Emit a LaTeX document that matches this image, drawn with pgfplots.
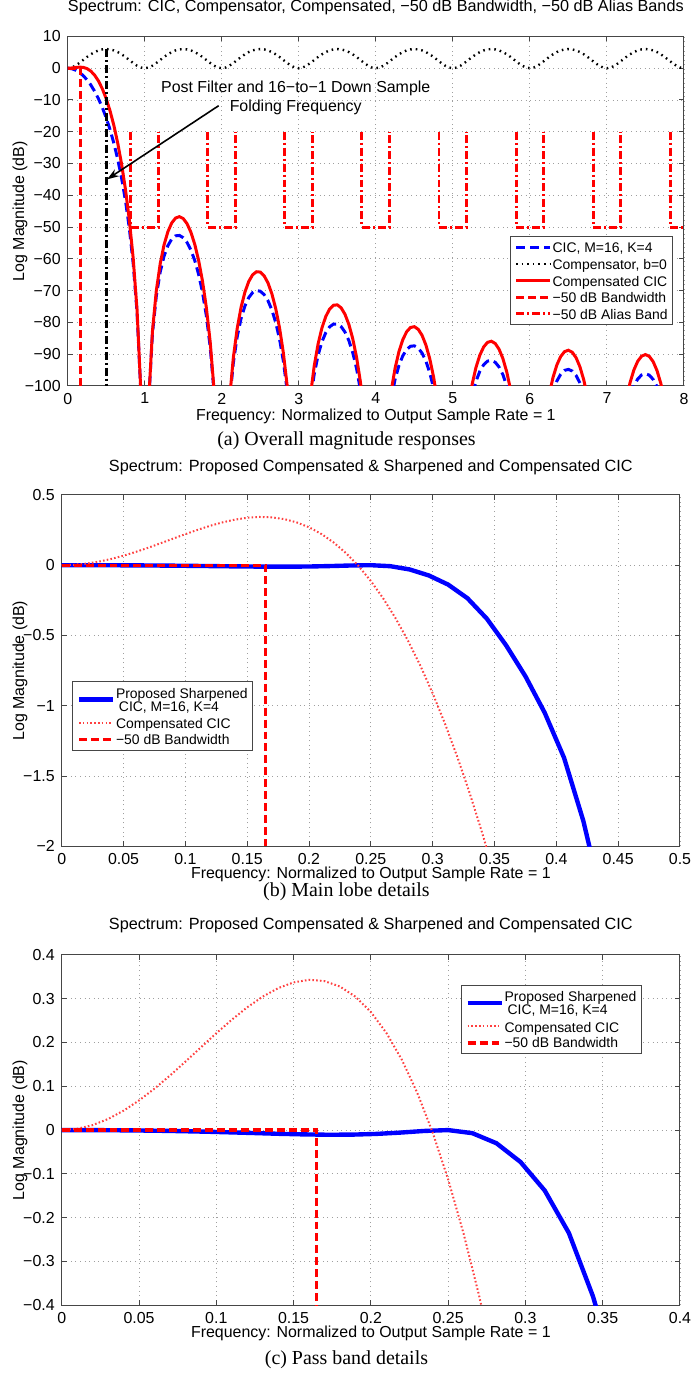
\documentclass[border=0pt]{standalone}
\usepackage{fontspec}
\setmainfont{Liberation Sans}
\newfontfamily\capfont{Liberation Serif}
\usepackage{pgfplots}
\usepackage{pgfplotstable}
\pgfplotsset{compat=1.18}
\usetikzlibrary{arrows.meta}

\definecolor{mblue}{rgb}{0,0,1}
\definecolor{mred}{rgb}{1,0,0}
\newcommand\lstrut{\rule[-1.93pt]{0pt}{8.75pt}}

\pgfplotsset{
  mstyle/.style={
    scale only axis,
    tick align=inside,
    major tick length=2.5pt,
    axis line style={gray!55!black, line width=0.5pt},
    tick style={gray!55!black, line width=0.5pt},
    grid=major,
    major grid style={gray!75, line width=0.45pt, dash pattern=on 0.5pt off 1.8pt},
    tick label style={font=\fontsize{8}{9.6}\selectfont},
    label style={font=\fontsize{8}{9.6}\selectfont},
    title style={font=\fontsize{8.15}{9.8}\selectfont, inner sep=0pt},
    scaled ticks=false,
    legend cell align=left,
    legend style={font=\fontsize{7}{8.75}\selectfont, draw=gray!55!black, line width=0.5pt, fill=white,
      inner xsep=2pt, inner ysep=1.4pt, nodes={inner ysep=0pt, inner xsep=0.4pt}},
  },
}

% ---------- data for panels (b) and (c) ----------
\pgfplotstableread{
x y
0 0
0.015625 0.0000
0.03125 -0.0003
0.046875 -0.0008
0.0625 -0.0015
0.078125 -0.0025
0.09375 -0.0037
0.109375 -0.0052
0.125 -0.0068
0.140625 -0.0085
0.15625 -0.0098
0.171875 -0.0106
0.1875 -0.0104
0.203125 -0.0088
0.21875 -0.0058
0.234375 -0.0020
0.25 0.0000
0.265625 -0.007
0.28125 -0.030
0.296875 -0.073
0.3125 -0.138
0.328125 -0.235
0.34375 -0.380
0.359375 -0.570
0.375 -0.790
0.390625 -1.050
0.40625 -1.370
0.421875 -1.820
0.4375 -2.400
}\sharpdata

\pgfplotstableread{
x y
0 0
0.01 0.0029
0.02 0.0114
0.03 0.0253
0.04 0.0443
0.05 0.0676
0.06 0.0946
0.07 0.1244
0.08 0.1561
0.09 0.1887
0.10 0.2210
0.11 0.2519
0.12 0.2802
0.13 0.3046
0.14 0.3240
0.15 0.3372
0.16 0.3430
0.17 0.3402
0.18 0.3277
0.19 0.3046
0.20 0.2697
0.21 0.2221
0.22 0.1609
0.23 0.0853
0.24 -0.0056
0.25 -0.1126
0.26 -0.2363
0.27 -0.3774
0.28 -0.5365
0.29 -0.7142
0.30 -0.9116
0.31 -1.1286
0.32 -1.3657
0.33 -1.6235
0.34 -1.9027
0.35 -2.2037
}\compdata

\begin{document}
\begin{tikzpicture}
\path (0pt,0pt) rectangle (347pt,-686.5pt);

% ================= (a) =================
\begin{axis}[mstyle, at={(34pt,-190.75pt)}, anchor=south west,
  width=309.5pt, height=175.5pt,
  xmin=0, xmax=8, ymin=-100, ymax=10,
  xtick={0,1,2,3,4,5,6,7,8}, xticklabels={0,1,2,3,4,5,6,7,8},
  ytick={-100,-90,-80,-70,-60,-50,-40,-30,-20,-10,0,10},
  yticklabels={−100,−90,−80,−70,−60,−50,−40,−30,−20,−10,0,10},
  title={Spectrum: CIC, Compensator, Compensated, −50 dB Bandwidth, −50 dB Alias Bands},
  title style={at={(axis description cs:0.5,1)}, anchor=center, yshift=8.5pt},
  xlabel={Frequency: Normalized to Output Sample Rate = 1},
  xlabel style={at={(axis description cs:0.5,0)}, anchor=center, yshift=-15.1pt},
  ylabel={Log Magnitude (dB)},
  ylabel style={at={(axis description cs:-0.0775,0.5)}, anchor=center},
  legend style={at={(0.9822,0.4288)}, anchor=north east},
]
% CIC
\addplot[mblue, line width=1.5pt, dash pattern=on 4.5pt off 2.5pt] coordinates {
(0,0) (0.05,-0.142) (0.1,-0.571) (0.15,-1.291) (0.2,-2.308) (0.25,-3.634) (0.3,-5.285) (0.35,-7.280) (0.4,-9.645) (0.45,-12.414) (0.5,-15.634) (0.55,-19.364) (0.6,-23.687) (0.65,-28.720) (0.7,-34.634) (0.75,-41.692) (0.8,-50.339) (0.85,-61.400) (0.9,-76.732) (0.95,-102.242)
(1.05,-105.674) (1.1,-83.614) (1.15,-71.768) (1.2,-64.247) (1.25,-59.217) (1.3,-55.873) (1.35,-53.800) (1.4,-52.767) (1.45,-52.641) (1.5,-53.356) (1.55,-54.891) (1.6,-57.272) (1.65,-60.570) (1.7,-64.924) (1.75,-70.570) (1.8,-77.930) (1.85,-87.815) (1.9,-102.064)
(2.1,-105.361) (2.15,-92.765) (2.2,-84.541) (2.25,-78.850) (2.3,-74.885) (2.35,-72.225) (2.4,-70.637) (2.45,-69.985) (2.5,-70.201) (2.55,-71.262) (2.6,-73.191) (2.65,-76.059) (2.7,-80.002) (2.75,-85.255) (2.8,-92.239) (2.85,-101.763)
(3.15,-104.829) (3.2,-96.330) (3.25,-90.373) (3.3,-86.150) (3.35,-83.243) (3.4,-81.414) (3.45,-80.529) (3.5,-80.518) (3.55,-81.360) (3.6,-83.077) (3.65,-85.738) (3.7,-89.480) (3.75,-94.538) (3.8,-101.332)
(4.2,-104.063) (4.25,-97.954) (4.3,-93.582) (4.35,-90.529) (4.4,-88.557) (4.45,-87.532) (4.5,-87.385) (4.55,-88.092) (4.6,-89.677) (4.65,-92.209) (4.7,-95.824) (4.75,-100.757)
(5.25,-103.039) (5.3,-98.563) (5.35,-95.407) (5.4,-93.334) (5.45,-92.210) (5.5,-91.964) (5.55,-92.575) (5.6,-94.064) (5.65,-96.501) (5.7,-100.023) (5.75,-104.864)
(6.3,-101.720) (6.35,-98.483) (6.4,-96.330) (6.45,-95.125) (6.5,-94.801) (6.55,-95.332) (6.6,-96.744) (6.65,-99.104) (6.7,-102.549)
(7.3,-103.364) (7.35,-100.056) (7.4,-97.831) (7.45,-96.557) (7.5,-96.162) (7.55,-96.624) (7.6,-97.966) (7.65,-100.257) (7.7,-103.633)
};
\addlegendentry{\lstrut CIC, M=16, K=4}
% Compensator
\addplot[black, line width=1.2pt, dash pattern=on 0.8pt off 2pt] coordinates {
(0,0)(0.05,0.210)(0.1,0.792)(0.15,1.628)(0.2,2.578)(0.25,3.522)(0.3,4.373)(0.35,5.076)(0.4,5.596)(0.45,5.914)(0.5,6.021)(0.55,5.914)(0.6,5.596)(0.65,5.076)(0.7,4.373)(0.75,3.522)(0.8,2.578)(0.85,1.628)(0.9,0.792)(0.95,0.210)
(1,0)(1.05,0.210)(1.1,0.792)(1.15,1.628)(1.2,2.578)(1.25,3.522)(1.3,4.373)(1.35,5.076)(1.4,5.596)(1.45,5.914)(1.5,6.021)(1.55,5.914)(1.6,5.596)(1.65,5.076)(1.7,4.373)(1.75,3.522)(1.8,2.578)(1.85,1.628)(1.9,0.792)(1.95,0.210)
(2,0)(2.05,0.210)(2.1,0.792)(2.15,1.628)(2.2,2.578)(2.25,3.522)(2.3,4.373)(2.35,5.076)(2.4,5.596)(2.45,5.914)(2.5,6.021)(2.55,5.914)(2.6,5.596)(2.65,5.076)(2.7,4.373)(2.75,3.522)(2.8,2.578)(2.85,1.628)(2.9,0.792)(2.95,0.210)
(3,0)(3.05,0.210)(3.1,0.792)(3.15,1.628)(3.2,2.578)(3.25,3.522)(3.3,4.373)(3.35,5.076)(3.4,5.596)(3.45,5.914)(3.5,6.021)(3.55,5.914)(3.6,5.596)(3.65,5.076)(3.7,4.373)(3.75,3.522)(3.8,2.578)(3.85,1.628)(3.9,0.792)(3.95,0.210)
(4,0)(4.05,0.210)(4.1,0.792)(4.15,1.628)(4.2,2.578)(4.25,3.522)(4.3,4.373)(4.35,5.076)(4.4,5.596)(4.45,5.914)(4.5,6.021)(4.55,5.914)(4.6,5.596)(4.65,5.076)(4.7,4.373)(4.75,3.522)(4.8,2.578)(4.85,1.628)(4.9,0.792)(4.95,0.210)
(5,0)(5.05,0.210)(5.1,0.792)(5.15,1.628)(5.2,2.578)(5.25,3.522)(5.3,4.373)(5.35,5.076)(5.4,5.596)(5.45,5.914)(5.5,6.021)(5.55,5.914)(5.6,5.596)(5.65,5.076)(5.7,4.373)(5.75,3.522)(5.8,2.578)(5.85,1.628)(5.9,0.792)(5.95,0.210)
(6,0)(6.05,0.210)(6.1,0.792)(6.15,1.628)(6.2,2.578)(6.25,3.522)(6.3,4.373)(6.35,5.076)(6.4,5.596)(6.45,5.914)(6.5,6.021)(6.55,5.914)(6.6,5.596)(6.65,5.076)(6.7,4.373)(6.75,3.522)(6.8,2.578)(6.85,1.628)(6.9,0.792)(6.95,0.210)
(7,0)(7.05,0.210)(7.1,0.792)(7.15,1.628)(7.2,2.578)(7.25,3.522)(7.3,4.373)(7.35,5.076)(7.4,5.596)(7.45,5.914)(7.5,6.021)(7.55,5.914)(7.6,5.596)(7.65,5.076)(7.7,4.373)(7.75,3.522)(7.8,2.578)(7.85,1.628)(7.9,0.792)(7.95,0.210)
(8,0)
};
\addlegendentry{\lstrut Compensator, b=0}
% Compensated CIC
\addplot[mred, line width=1.5pt] coordinates {
(0,0) (0.05,0.068) (0.1,0.221) (0.15,0.337) (0.2,0.270) (0.25,-0.113) (0.3,-0.912) (0.35,-2.204) (0.4,-4.049) (0.45,-6.500) (0.5,-9.613) (0.55,-13.450) (0.6,-18.091) (0.65,-23.644) (0.7,-30.261) (0.75,-38.170) (0.8,-47.761) (0.85,-59.772) (0.9,-75.940) (0.95,-102.032)
(1.05,-105.464) (1.1,-82.822) (1.15,-70.140) (1.2,-61.669) (1.25,-55.695) (1.3,-51.500) (1.35,-48.724) (1.4,-47.171) (1.45,-46.727) (1.5,-47.335) (1.55,-48.977) (1.6,-51.676) (1.65,-55.494) (1.7,-60.551) (1.75,-67.048) (1.8,-75.352) (1.85,-86.187) (1.9,-101.272)
(2.1,-104.569) (2.15,-91.137) (2.2,-81.963) (2.25,-75.328) (2.3,-70.512) (2.35,-67.149) (2.4,-65.041) (2.45,-64.071) (2.5,-64.180) (2.55,-65.348) (2.6,-67.595) (2.65,-70.983) (2.7,-75.629) (2.75,-81.733) (2.8,-89.661) (2.85,-100.135) (2.9,-114.875)
(3.15,-103.201) (3.2,-93.752) (3.25,-86.851) (3.3,-81.777) (3.35,-78.167) (3.4,-75.818) (3.45,-74.615) (3.5,-74.497) (3.55,-75.446) (3.6,-77.481) (3.65,-80.662) (3.7,-85.107) (3.75,-91.016) (3.8,-98.754) (3.85,-109.043)
(4.2,-101.485) (4.25,-94.432) (4.3,-89.209) (4.35,-85.453) (4.4,-82.961) (4.45,-81.618) (4.5,-81.364) (4.55,-82.178) (4.6,-84.081) (4.65,-87.133) (4.7,-91.451) (4.75,-97.235) (4.8,-104.851)
(5.2,-106.676) (5.25,-99.517) (5.3,-94.190) (5.35,-90.331) (5.4,-87.738) (5.45,-86.296) (5.5,-85.943) (5.55,-86.661) (5.6,-88.468) (5.65,-91.425) (5.7,-95.650) (5.75,-101.342)
(6.25,-102.756) (6.3,-97.347) (6.35,-93.407) (6.4,-90.734) (6.45,-89.211) (6.5,-88.780) (6.55,-89.418) (6.6,-91.148) (6.65,-94.028) (6.7,-98.176) (6.75,-103.792)
(7.25,-104.471) (7.3,-98.991) (7.35,-94.980) (7.4,-92.235) (7.45,-90.643) (7.5,-90.141) (7.55,-90.710) (7.6,-92.370) (7.65,-95.181) (7.7,-99.260) (7.75,-104.807)
};
\addlegendentry{\lstrut Compensated CIC}
% -50 dB bandwidth
\addplot[mred, line width=1.7pt, dash pattern=on 4pt off 2pt] coordinates {(0,0) (0.165,0) (0.165,-100)};
\addlegendentry{\lstrut −50 dB Bandwidth}
% -50 dB alias bands
\addplot[mred, line width=1.5pt, dash pattern=on 4pt off 1.5pt on 1pt off 1.5pt, unbounded coords=jump] coordinates {
(0.82,-20)(0.82,-50)(1.18,-50)(1.18,-20)(1.5,nan)
(1.82,-20)(1.82,-50)(2.18,-50)(2.18,-20)(2.5,nan)
(2.82,-20)(2.82,-50)(3.18,-50)(3.18,-20)(3.5,nan)
(3.82,-20)(3.82,-50)(4.18,-50)(4.18,-20)(4.5,nan)
(4.82,-20)(4.82,-50)(5.18,-50)(5.18,-20)(5.5,nan)
(5.82,-20)(5.82,-50)(6.18,-50)(6.18,-20)(6.5,nan)
(6.82,-20)(6.82,-50)(7.18,-50)(7.18,-20)(7.5,nan)
(7.82,-20)(7.82,-50)(8,-50)
};
\addlegendentry{\lstrut −50 dB Alias Band}
% folding frequency
\addplot[black, line width=1.5pt, dash pattern=on 4pt off 1.5pt on 1pt off 1.5pt, forget plot] coordinates {(0.5,6) (0.5,-100)};
\node[font=\fontsize{8}{9.5}\selectfont, align=center, inner sep=0pt] at (axis cs:2.96,-9.3)
  {Post Filter and 16−to−1 Down Sample\\Folding Frequency};
\draw[black, line width=0.8pt, -{Stealth[length=6pt,width=4pt]}] (axis cs:1.96,-11.8) -- (axis cs:0.51,-35);
\end{axis}

% ================= (b) =================
\begin{axis}[mstyle, at={(31pt,-422pt)}, anchor=south west,
  width=310.5pt, height=176.5pt,
  xmin=0, xmax=0.5, ymin=-2, ymax=0.5,
  xtick={0,0.05,0.1,0.15,0.2,0.25,0.3,0.35,0.4,0.45,0.5},
  xticklabels={0,0.05,0.1,0.15,0.2,0.25,0.3,0.35,0.4,0.45,0.5},
  ytick={-2,-1.5,-1,-0.5,0,0.5},
  yticklabels={−2,−1.5,−1,−0.5,0,0.5},
  title={Spectrum: Proposed Compensated \& Sharpened and Compensated CIC},
  title style={at={(axis description cs:0.5,1)}, anchor=center, yshift=8pt},
  xlabel={Frequency: Normalized to Output Sample Rate = 1},
  xlabel style={at={(axis description cs:0.5,0)}, anchor=center, yshift=-14.15pt},
  ylabel={Log Magnitude (dB)},
  ylabel style={at={(axis description cs:-0.0676,0.5)}, anchor=center},
  legend style={at={(0.0172,0.4694)}, anchor=north west},
]
\addplot[mblue, line width=2.2pt, legend image post style={yshift=-3.34pt}] table[x=x,y=y] {\sharpdata};
\addlegendentry{\rule[-1.975pt]{0pt}{8.875pt}\smash{Proposed Sharpened}}
\addlegendimage{empty legend}
\addlegendentry{\rule[-2.15pt]{0pt}{6.825pt}\smash{\hspace{1.5pt}CIC, M=16, K=4}}
\addplot[mred!75, line width=1pt, dash pattern=on 0.8pt off 1.1pt] table[x=x,y=y] {\compdata};
\addlegendentry{\rule[-2.45pt]{0pt}{9.8pt}\smash{Compensated CIC}}
\addplot[mred, line width=1.7pt, dash pattern=on 4pt off 2pt] coordinates {(0,0) (0.165,0) (0.165,-2)};
\addlegendentry{\rule[-1.5pt]{0pt}{7.9pt}\smash{−50 dB Bandwidth}}
\end{axis}

% ================= (c) =================
\begin{axis}[mstyle, at={(31pt,-652.5pt)}, anchor=south west,
  width=310.5pt, height=176pt,
  xmin=0, xmax=0.4, ymin=-0.4, ymax=0.4,
  xtick={0,0.05,0.1,0.15,0.2,0.25,0.3,0.35,0.4},
  xticklabels={0,0.05,0.1,0.15,0.2,0.25,0.3,0.35,0.4},
  ytick={-0.4,-0.3,-0.2,-0.1,0,0.1,0.2,0.3,0.4},
  yticklabels={−0.4,−0.3,−0.2,−0.1,0,0.1,0.2,0.3,0.4},
  title={Spectrum: Proposed Compensated \& Sharpened and Compensated CIC},
  title style={at={(axis description cs:0.5,1)}, anchor=center, yshift=9pt},
  xlabel={Frequency: Normalized to Output Sample Rate = 1},
  xlabel style={at={(axis description cs:0.5,0)}, anchor=center, yshift=-14.15pt},
  ylabel={Log Magnitude (dB)},
  ylabel style={at={(axis description cs:-0.0676,0.5)}, anchor=center},
  legend style={at={(0.6457,0.9148)}, anchor=north west},
]
\addplot[mblue, line width=2.2pt, legend image post style={yshift=-3.34pt}] table[x=x,y=y] {\sharpdata};
\addlegendentry{\rule[-1.975pt]{0pt}{8.875pt}\smash{Proposed Sharpened}}
\addlegendimage{empty legend}
\addlegendentry{\rule[-2.15pt]{0pt}{6.825pt}\smash{\hspace{1.5pt}CIC, M=16, K=4}}
\addplot[mred!75, line width=1pt, dash pattern=on 0.8pt off 1.1pt] table[x=x,y=y] {\compdata};
\addlegendentry{\rule[-2.45pt]{0pt}{9.8pt}\smash{Compensated CIC}}
\addplot[mred, line width=1.7pt, dash pattern=on 4pt off 2pt] coordinates {(0,0) (0.165,0) (0.165,-0.4)};
\addlegendentry{\rule[-1.5pt]{0pt}{7.9pt}\smash{−50 dB Bandwidth}}
\end{axis}

% captions
\node[font=\capfont\fontsize{10}{12}\selectfont, inner sep=0pt] at (174pt,-218.35pt) {(a) Overall magnitude responses};
\node[font=\capfont\fontsize{10}{12}\selectfont, inner sep=0pt] at (174pt,-444.65pt) {(b) Main lobe details};
\node[font=\capfont\fontsize{10}{12}\selectfont, inner sep=0pt] at (174pt,-680pt) {(c) Pass band details};
\end{tikzpicture}
\end{document}
